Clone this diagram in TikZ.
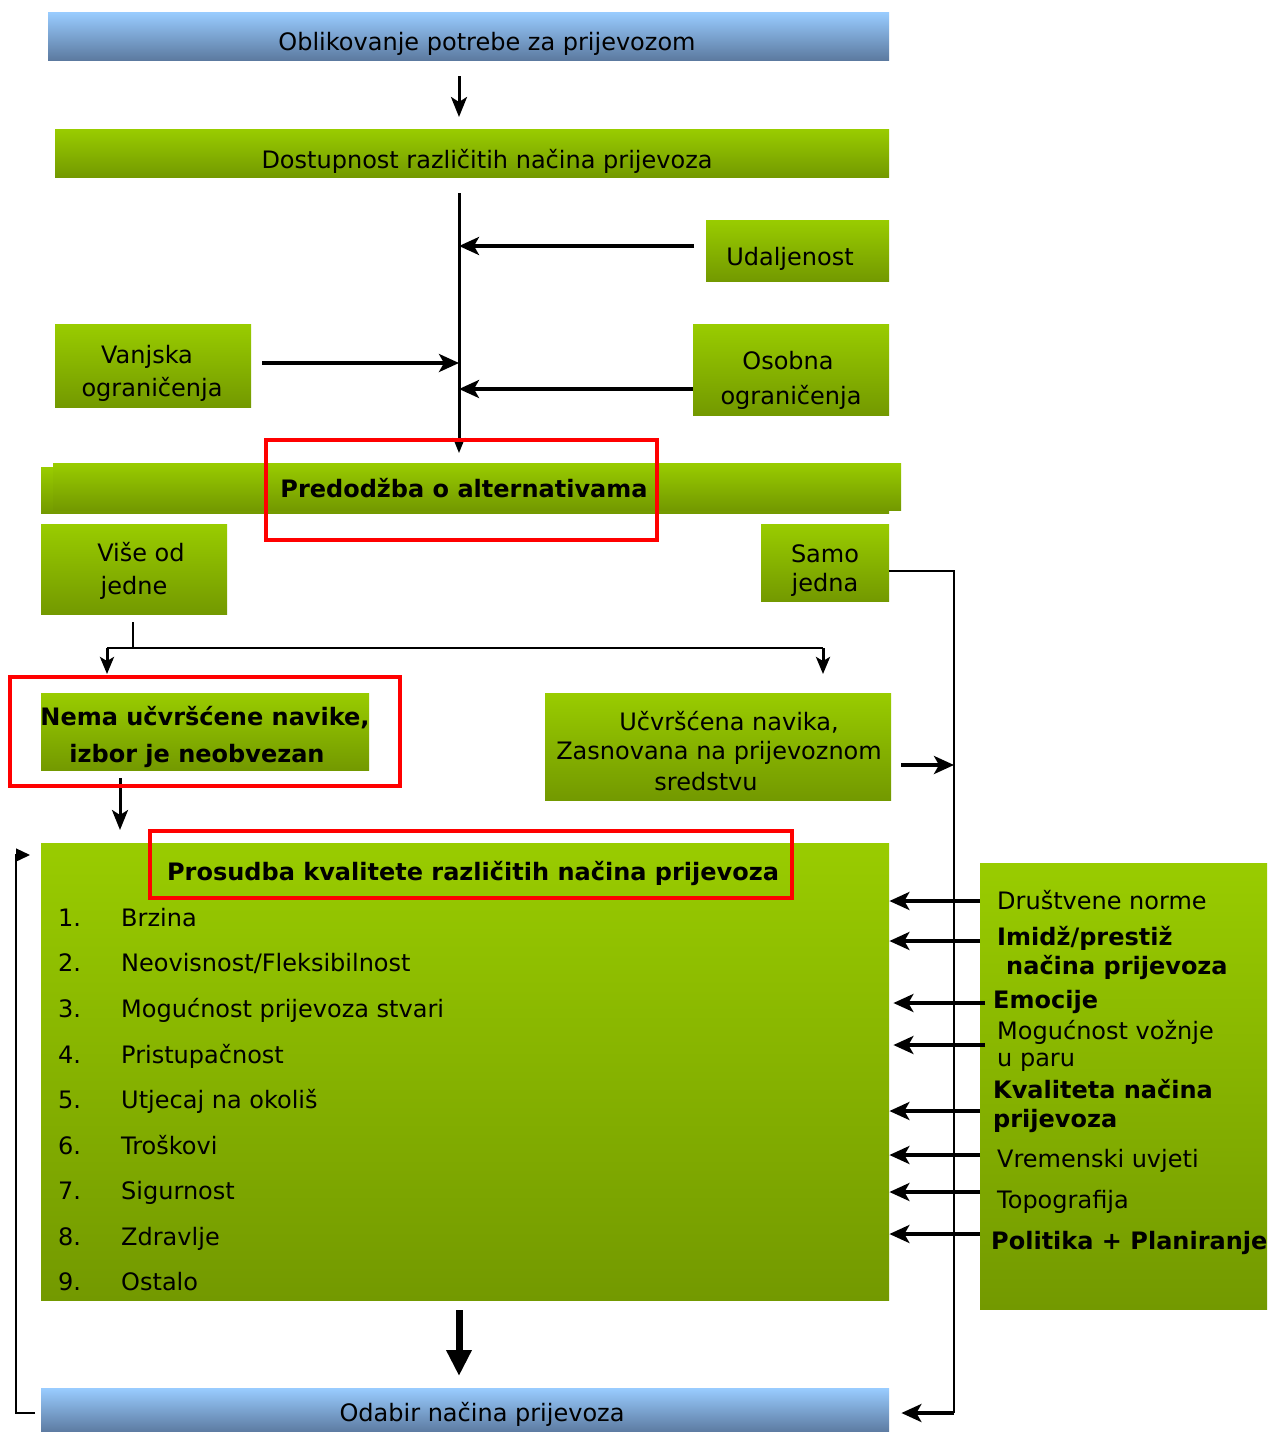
\documentclass[tikz,border=0pt]{standalone}
\usepackage{fontspec}
\setmainfont{DejaVu Sans}
\usetikzlibrary{arrows.meta}
\definecolor{gtop}{RGB}{153,204,0}
\definecolor{gbot}{RGB}{115,153,0}
\definecolor{btop}{RGB}{153,204,255}
\definecolor{bbot}{RGB}{92,122,160}
\definecolor{hred}{RGB}{255,0,0}
\newcommand\fsz{\fontsize{24}{33}\selectfont}
\begin{document}
\begin{tikzpicture}[x=1pt,y=-1pt,
  gbox/.style={draw=none, top color=gtop, bottom color=gbot, inner sep=0pt, anchor=north west},
  bbox/.style={draw=none, top color=btop, bottom color=bbot, inner sep=0pt, anchor=north west},
  txt/.style={font=\fsz, inner sep=0pt, anchor=mid, yshift=-6pt},
  ltxt/.style={font=\fsz, inner sep=0pt, anchor=mid west, yshift=-6pt},
  btxt/.style={font=\fsz\bfseries, inner sep=0pt, anchor=mid, yshift=-6pt},
  bltxt/.style={font=\fsz\bfseries, inner sep=0pt, anchor=mid west, yshift=-6pt},
  arr/.style={line width=3.4pt, -{Stealth[length=20pt,width=18pt,inset=5pt]}},
  varr/.style={line width=3pt, -{Stealth[length=20pt,width=16pt,inset=5pt]}},
  sarr/.style={line width=3pt, -{Stealth[length=17pt,width=14pt,inset=4pt]}},
  conn/.style={line width=1.4pt},
  hilite/.style={draw=hred, line width=4pt}]
\useasboundingbox (0,0) rectangle (1270,1432);
\fill[white] (0,0) rectangle (1270,1432);

% boxes
\node[bbox, minimum width=841pt, minimum height=48pt] (top) at (48,12) {};
\node[gbox, minimum width=834pt, minimum height=48pt] (dost) at (55,129) {};
\node[gbox, minimum width=183pt, minimum height=61pt] (udal) at (706,220) {};
\node[gbox, minimum width=196pt, minimum height=83pt] (vanj) at (55,324) {};
\node[gbox, minimum width=196pt, minimum height=91pt] (osob) at (693,324) {};
\node[gbox, minimum width=848pt, minimum height=46pt] (predb) at (41,467) {};
\node[gbox, minimum width=848pt, minimum height=47pt] (pred) at (53,463) {};
\node[gbox, minimum width=186pt, minimum height=90pt] (vise) at (41,524) {};
\node[gbox, minimum width=128pt, minimum height=77pt] (samo) at (761,524) {};
\node[gbox, minimum width=328pt, minimum height=77pt] (nema) at (41,693) {};
\node[gbox, minimum width=346pt, minimum height=107pt] (ucvr) at (545,693) {};
\node[gbox, minimum width=848pt, minimum height=457pt] (pros) at (41,843) {};
\node[gbox, minimum width=287pt, minimum height=446pt] (fact) at (980,863) {};
\node[bbox, minimum width=848pt, minimum height=44pt] (odab) at (41,1388) {};

% texts
\node[txt] (ttop) at (487,42) {Oblikovanje potrebe za prijevozom};
\node[txt] (tdost) at (487,160) {Dostupnost različitih načina prijevoza};
\node[txt] (tudal) at (790,257) {Udaljenost};
\node[txt] (tvanj1) at (147,355) {Vanjska};
\node[txt] (tvanj2) at (152,388) {ograničenja};
\node[txt] (tosob1) at (788,361) {Osobna};
\node[txt] (tosob2) at (791,396) {ograničenja};
\node[btxt] (tpred) at (464,489) {Predodžba o alternativama};
\node[txt] (tvise1) at (141,553) {Više od};
\node[txt] (tvise2) at (134,586) {jedne};
\node[txt] (tsamo1) at (825,554) {Samo};
\node[txt] (tsamo2) at (825,583) {jedna};
\node[btxt] (tnema1) at (205,717) {Nema učvršćene navike,};
\node[btxt] (tnema2) at (197,754) {izbor je neobvezan};
\node[txt] (tucvr1) at (729,722) {Učvršćena navika,};
\node[txt] (tucvr2) at (719,751) {Zasnovana na prijevoznom};
\node[txt] (tucvr3) at (706,782) {sredstvu};
\node[btxt] (tpros) at (473,872) {Prosudba kvalitete različitih načina prijevoza};
\foreach \n/\t/\y in {1/Brzina/918, 2/Neovisnost\slash Fleksibilnost/963, 3/Mogućnost prijevoza stvari/1009,
  4/Pristupačnost/1055, 5/Utjecaj na okoliš/1100, 6/Troškovi/1146, 7/Sigurnost/1191, 8/Zdravlje/1237, 9/Ostalo/1282}{
  \node[ltxt] (num\n) at (58,\y) {\n.};
  \node[ltxt] (item\n) at (121,\y) {\t};
}
\node[ltxt] (f1) at (997,901) {Društvene norme};
\node[bltxt] (f2a) at (997,937) {Imidž/prestiž};
\node[bltxt] (f2b) at (1006,966) {načina prijevoza};
\node[bltxt] (f3) at (993,1000) {Emocije};
\node[ltxt] (f4a) at (997,1031) {Mogućnost vožnje};
\node[ltxt] (f4b) at (997,1058) {u paru};
\node[bltxt] (f5a) at (993,1090) {Kvaliteta načina};
\node[bltxt] (f5b) at (993,1119) {prijevoza};
\node[ltxt] (f6) at (997,1159) {Vremenski uvjeti};
\node[ltxt] (f7) at (997,1200) {Topografija};
\node[bltxt] (f8) at (991,1241) {Politika + Planiranje};
\node[txt] (todab) at (482,1413) {Odabir načina prijevoza};

% coordinates
\coordinate (vx) at (459,0);
\coordinate (j1) at (459,246);
\coordinate (j2) at (459,363);
\coordinate (j3) at (459,389);
\coordinate (hb) at (133,648);
\coordinate (hl) at (107,648);
\coordinate (hr) at (823,648);
\coordinate (r1) at (954,571);
\coordinate (r2) at (954,1413);
\coordinate (r3) at (954,765);
\coordinate (c1) at (120,0);
\coordinate (fb1) at (16,1413);
\coordinate (fb2) at (16,855);
\coordinate (fb3) at (30,855);

% connectors
\draw[varr, shorten <=16pt, shorten >=12pt] (top.south -| vx) -- (dost.north -| vx);
\draw[line width=3pt, -{Stealth[length=15pt,width=12pt,inset=4pt]}, shorten <=16pt, shorten >=10pt] (dost.south -| vx) -- (pred.north -| vx);
\draw[arr, shorten <=12pt] (udal.west |- j1) -- (j1);
\draw[arr, shorten <=11pt] (vanj.east |- j2) -- (j2);
\draw[arr] (osob.west |- j3) -- (j3);

\draw[conn, shorten <=8pt] (hb |- vise.south) -- (hb);
\draw[line width=2pt] (hl) -- (hr);
\draw[sarr, shorten >=19pt] (hl) -- (nema.north -| hl);
\draw[sarr, shorten >=19pt] (hr) -- (ucvr.north -| hr);

\draw[conn] (samo.east |- r1) -- (r1) -- (r2);
\draw[arr, shorten >=12pt] (r2) -- (odab.east |- r2);
\draw[arr, shorten <=10pt] (ucvr.east |- r3) -- (r3);

\draw[varr, shorten <=8pt, shorten >=13pt] (nema.south -| c1) -- (pros.north -| c1);

\draw[conn, -{Triangle[length=14pt,width=13pt]}, shorten <=6pt] (odab.west |- fb1) -- (fb1) -- (fb2) -- (fb3);

\foreach \y in {901,941,1111,1155,1192,1234}{
  \draw[arr] (fact.west |- 0,\y) -- (pros.east |- 0,\y);
}
\foreach \y in {1003,1045}{
  \draw[arr, shorten >=4pt] ([xshift=5pt]fact.west |- 0,\y) -- (pros.east |- 0,\y);
}

\draw[line width=7pt, -{Triangle[length=26pt,width=24pt]}, shorten <=10pt, shorten >=12pt] (pros.south -| vx) -- (odab.north -| vx);

% highlight frames
\draw[hilite] (266,440) rectangle (657,540);
\draw[hilite] (10,677) rectangle (400,786);
\draw[hilite] (150,831) rectangle (792,898);
\end{tikzpicture}
\end{document}
